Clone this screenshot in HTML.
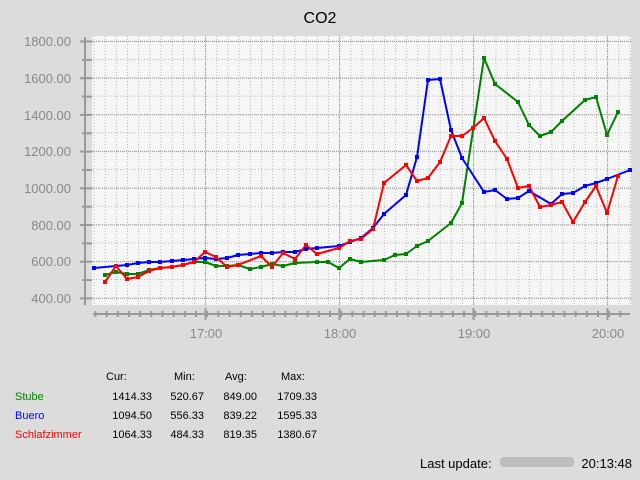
<!DOCTYPE html>
<html><head><meta charset="utf-8"><style>
body{margin:0;background:#dcdcdc;}
svg{display:block;font-family:"Liberation Sans","DejaVu Sans",sans-serif;}
</style></head><body>
<svg width="640" height="480" viewBox="0 0 640 480" xmlns="http://www.w3.org/2000/svg">
<defs>
<pattern id="vg" patternUnits="userSpaceOnUse" x="93.5" y="0" width="11.1667" height="480">
<line x1="0.5" y1="0" x2="0.5" y2="480" stroke="#b8b8b8" stroke-width="1" stroke-dasharray="1,2"/>
</pattern>
<pattern id="hg" patternUnits="userSpaceOnUse" x="0" y="40.5" width="640" height="18.357">
<line x1="0" y1="0.5" x2="640" y2="0.5" stroke="#b8b8b8" stroke-width="1" stroke-dasharray="1,2"/>
</pattern>
</defs>
<rect width="640" height="480" fill="#dcdcdc"/>
<text x="320" y="23" font-size="16" text-anchor="middle" fill="#000">CO2</text>
<rect x="92" y="36" width="539" height="269" fill="#f6f6f6"/>
<rect x="92" y="36" width="539" height="269" fill="url(#vg)"/>
<rect x="92" y="36" width="539" height="269" fill="url(#hg)"/>
<g stroke="#999" stroke-dasharray="1,1" stroke-width="1">
<line x1="205.5" y1="36" x2="205.5" y2="305"/><line x1="339.5" y1="36" x2="339.5" y2="305"/>
<line x1="473.5" y1="36" x2="473.5" y2="305"/><line x1="607.5" y1="36" x2="607.5" y2="305"/>
<line x1="92" y1="41.5" x2="631" y2="41.5"/><line x1="92" y1="78.2" x2="631" y2="78.2"/>
<line x1="92" y1="114.9" x2="631" y2="114.9"/><line x1="92" y1="151.6" x2="631" y2="151.6"/>
<line x1="92" y1="188.3" x2="631" y2="188.3"/><line x1="92" y1="225" x2="631" y2="225"/>
<line x1="92" y1="261.7" x2="631" y2="261.7"/><line x1="92" y1="298.4" x2="631" y2="298.4"/>
</g>
<!-- y axis -->
<g stroke="#999" stroke-width="2">
<line x1="85" y1="37" x2="85" y2="305"/>
<line x1="80" y1="41.5" x2="92" y2="41.5"/><line x1="80" y1="78.2" x2="92" y2="78.2"/>
<line x1="80" y1="114.9" x2="92" y2="114.9"/><line x1="80" y1="151.6" x2="92" y2="151.6"/>
<line x1="80" y1="188.3" x2="92" y2="188.3"/><line x1="80" y1="225" x2="92" y2="225"/>
<line x1="80" y1="261.7" x2="92" y2="261.7"/><line x1="80" y1="298.4" x2="92" y2="298.4"/>
<line x1="82" y1="59.9" x2="92" y2="59.9"/><line x1="82" y1="96.6" x2="92" y2="96.6"/>
<line x1="82" y1="133.3" x2="92" y2="133.3"/><line x1="82" y1="170" x2="92" y2="170"/>
<line x1="82" y1="206.7" x2="92" y2="206.7"/><line x1="82" y1="243.4" x2="92" y2="243.4"/>
<line x1="82" y1="280.1" x2="92" y2="280.1"/>
</g>
<g font-size="13" fill="#888" text-anchor="end">
<text x="71" y="46">1800.00</text><text x="71" y="83">1600.00</text>
<text x="71" y="120">1400.00</text><text x="71" y="156">1200.00</text>
<text x="71" y="193">1000.00</text><text x="71" y="230">800.00</text>
<text x="71" y="266">600.00</text><text x="71" y="303">400.00</text>
</g>
<!-- x axis -->
<line x1="93" y1="314" x2="630" y2="314" stroke="#999" stroke-width="2"/>
<g stroke="#999" stroke-width="2" stroke-dasharray="2,9.1667">
<line x1="94" y1="314" x2="630" y2="314" stroke-width="6" stroke-dashoffset="-0.5"/>
</g>
<g stroke="#999" stroke-width="2">
<line x1="205.5" y1="308" x2="205.5" y2="320"/><line x1="339.5" y1="308" x2="339.5" y2="320"/>
<line x1="473.5" y1="308" x2="473.5" y2="320"/><line x1="607.5" y1="308" x2="607.5" y2="320"/>
</g>
<g font-size="13" fill="#888" text-anchor="middle">
<text x="206" y="338">17:00</text><text x="340" y="338">18:00</text>
<text x="474" y="338">19:00</text><text x="608" y="338">20:00</text>
</g>
<!-- series -->
<g fill="none" stroke-width="2" stroke-linejoin="round">
<polyline stroke="#008000" points="105,275 116,272 127,274 138,274 149,270 160,268 172,267 183,265 194,262 205,262 216,266 227,266 238,265 250,269 261,267 272,264 283,266 295,263 317,262 328,262 339,268 350,259 361,262 384,260 395,255 406,254 417,246 428,241 451,223 462,203 484,58 495,84 518,102 529,125 540,136 551,132 562,121 585,100 596,97 607,135 618,112"/>
<polyline stroke="#0000ff" points="94,268 127,265 138,263 149,262 160,262 172,261 183,260 194,259 205,258 216,259 227,258 238,255 250,254 261,253 272,253 283,252 295,252 306,249 317,248 339,246 350,242 361,238 373,228 384,214 406,195 417,157 428,80 440,79 451,130 462,158 484,192 495,190 507,199 518,198 529,191 551,204 562,194 573,193 585,186 596,183 607,179 630,170"/>
<polyline stroke="#ff0000" points="105,282 116,266 127,279 138,277 149,271 160,268 172,267 183,265 194,262 205,252 216,257 227,267 238,265 261,256 272,267 283,253 295,259 306,245 317,254 339,248 350,241 361,239 373,229 384,183 406,165 417,181 428,178 440,162 451,136 462,136 473,128 484,118 495,141 507,159 518,188 529,186 540,207 551,205 562,202 573,222 585,202 596,186 607,213 618,176"/>
</g>
<g fill="none" stroke-width="4" stroke-linecap="square">
<polyline stroke="#008000" stroke-dasharray="0.01,1000" points="105,275"/>
</g>
<g stroke-width="5" stroke-linecap="square" fill="none" stroke-dasharray="0,10000">
</g>
<g fill="#008000">
<rect x="103" y="273" width="4" height="4"/><rect x="114" y="270" width="4" height="4"/><rect x="125" y="272" width="4" height="4"/><rect x="136" y="272" width="4" height="4"/><rect x="147" y="268" width="4" height="4"/><rect x="158" y="266" width="4" height="4"/><rect x="170" y="265" width="4" height="4"/><rect x="181" y="263" width="4" height="4"/><rect x="192" y="260" width="4" height="4"/><rect x="203" y="260" width="4" height="4"/><rect x="214" y="264" width="4" height="4"/><rect x="225" y="264" width="4" height="4"/><rect x="236" y="263" width="4" height="4"/><rect x="248" y="267" width="4" height="4"/><rect x="259" y="265" width="4" height="4"/><rect x="270" y="262" width="4" height="4"/><rect x="281" y="264" width="4" height="4"/><rect x="293" y="261" width="4" height="4"/><rect x="315" y="260" width="4" height="4"/><rect x="326" y="260" width="4" height="4"/><rect x="337" y="266" width="4" height="4"/><rect x="348" y="257" width="4" height="4"/><rect x="359" y="260" width="4" height="4"/><rect x="382" y="258" width="4" height="4"/><rect x="393" y="253" width="4" height="4"/><rect x="404" y="252" width="4" height="4"/><rect x="415" y="244" width="4" height="4"/><rect x="426" y="239" width="4" height="4"/><rect x="449" y="221" width="4" height="4"/><rect x="460" y="201" width="4" height="4"/><rect x="482" y="56" width="4" height="4"/><rect x="493" y="82" width="4" height="4"/><rect x="516" y="100" width="4" height="4"/><rect x="527" y="123" width="4" height="4"/><rect x="538" y="134" width="4" height="4"/><rect x="549" y="130" width="4" height="4"/><rect x="560" y="119" width="4" height="4"/><rect x="583" y="98" width="4" height="4"/><rect x="594" y="95" width="4" height="4"/><rect x="605" y="133" width="4" height="4"/><rect x="616" y="110" width="4" height="4"/>
</g>
<g fill="#0000ff">
<rect x="92" y="266" width="4" height="4"/><rect x="125" y="263" width="4" height="4"/><rect x="136" y="261" width="4" height="4"/><rect x="147" y="260" width="4" height="4"/><rect x="158" y="260" width="4" height="4"/><rect x="170" y="259" width="4" height="4"/><rect x="181" y="258" width="4" height="4"/><rect x="192" y="257" width="4" height="4"/><rect x="203" y="256" width="4" height="4"/><rect x="214" y="257" width="4" height="4"/><rect x="225" y="256" width="4" height="4"/><rect x="236" y="253" width="4" height="4"/><rect x="248" y="252" width="4" height="4"/><rect x="259" y="251" width="4" height="4"/><rect x="270" y="251" width="4" height="4"/><rect x="281" y="250" width="4" height="4"/><rect x="293" y="250" width="4" height="4"/><rect x="304" y="247" width="4" height="4"/><rect x="315" y="246" width="4" height="4"/><rect x="337" y="244" width="4" height="4"/><rect x="348" y="240" width="4" height="4"/><rect x="359" y="236" width="4" height="4"/><rect x="371" y="226" width="4" height="4"/><rect x="382" y="212" width="4" height="4"/><rect x="404" y="193" width="4" height="4"/><rect x="415" y="155" width="4" height="4"/><rect x="426" y="78" width="4" height="4"/><rect x="438" y="77" width="4" height="4"/><rect x="449" y="128" width="4" height="4"/><rect x="460" y="156" width="4" height="4"/><rect x="482" y="190" width="4" height="4"/><rect x="493" y="188" width="4" height="4"/><rect x="505" y="197" width="4" height="4"/><rect x="516" y="196" width="4" height="4"/><rect x="527" y="189" width="4" height="4"/><rect x="549" y="202" width="4" height="4"/><rect x="560" y="192" width="4" height="4"/><rect x="571" y="191" width="4" height="4"/><rect x="583" y="184" width="4" height="4"/><rect x="594" y="181" width="4" height="4"/><rect x="605" y="177" width="4" height="4"/><rect x="628" y="168" width="4" height="4"/>
</g>
<g fill="#ff0000">
<rect x="103" y="280" width="4" height="4"/><rect x="114" y="264" width="4" height="4"/><rect x="125" y="277" width="4" height="4"/><rect x="136" y="275" width="4" height="4"/><rect x="147" y="269" width="4" height="4"/><rect x="158" y="266" width="4" height="4"/><rect x="170" y="265" width="4" height="4"/><rect x="181" y="263" width="4" height="4"/><rect x="192" y="260" width="4" height="4"/><rect x="203" y="250" width="4" height="4"/><rect x="214" y="255" width="4" height="4"/><rect x="225" y="265" width="4" height="4"/><rect x="236" y="263" width="4" height="4"/><rect x="259" y="254" width="4" height="4"/><rect x="270" y="265" width="4" height="4"/><rect x="281" y="251" width="4" height="4"/><rect x="293" y="257" width="4" height="4"/><rect x="304" y="243" width="4" height="4"/><rect x="315" y="252" width="4" height="4"/><rect x="337" y="246" width="4" height="4"/><rect x="348" y="239" width="4" height="4"/><rect x="359" y="237" width="4" height="4"/><rect x="371" y="227" width="4" height="4"/><rect x="382" y="181" width="4" height="4"/><rect x="404" y="163" width="4" height="4"/><rect x="415" y="179" width="4" height="4"/><rect x="426" y="176" width="4" height="4"/><rect x="438" y="160" width="4" height="4"/><rect x="449" y="134" width="4" height="4"/><rect x="460" y="134" width="4" height="4"/><rect x="471" y="126" width="4" height="4"/><rect x="482" y="116" width="4" height="4"/><rect x="493" y="139" width="4" height="4"/><rect x="505" y="157" width="4" height="4"/><rect x="516" y="186" width="4" height="4"/><rect x="527" y="184" width="4" height="4"/><rect x="538" y="205" width="4" height="4"/><rect x="549" y="203" width="4" height="4"/><rect x="560" y="200" width="4" height="4"/><rect x="571" y="220" width="4" height="4"/><rect x="583" y="200" width="4" height="4"/><rect x="594" y="184" width="4" height="4"/><rect x="605" y="211" width="4" height="4"/><rect x="616" y="174" width="4" height="4"/>
</g>
<!-- legend -->
<g font-size="11" fill="#000">
<text x="106" y="380">Cur:</text><text x="174" y="380">Min:</text>
<text x="225" y="380">Avg:</text><text x="281" y="380">Max:</text>
</g>
<g font-size="11">
<text x="15" y="400" fill="#008000">Stube</text>
<text x="15" y="419" fill="#0000ff">Buero</text>
<text x="15" y="438" fill="#ff0000">Schlafzimmer</text>
</g>
<g font-size="11" fill="#000" text-anchor="end">
<text x="152" y="400">1414.33</text><text x="204" y="400">520.67</text><text x="257" y="400">849.00</text><text x="317" y="400">1709.33</text>
<text x="152" y="419">1094.50</text><text x="204" y="419">556.33</text><text x="257" y="419">839.22</text><text x="317" y="419">1595.33</text>
<text x="152" y="438">1064.33</text><text x="204" y="438">484.33</text><text x="257" y="438">819.35</text><text x="317" y="438">1380.67</text>
</g>
<text x="420" y="468" font-size="13" fill="#000">Last update:</text>
<rect x="500" y="457" width="74" height="10" rx="4" fill="#bdbdbd"/>
<text x="632" y="468" font-size="13" fill="#000" text-anchor="end">20:13:48</text>
</svg>
</body></html>
